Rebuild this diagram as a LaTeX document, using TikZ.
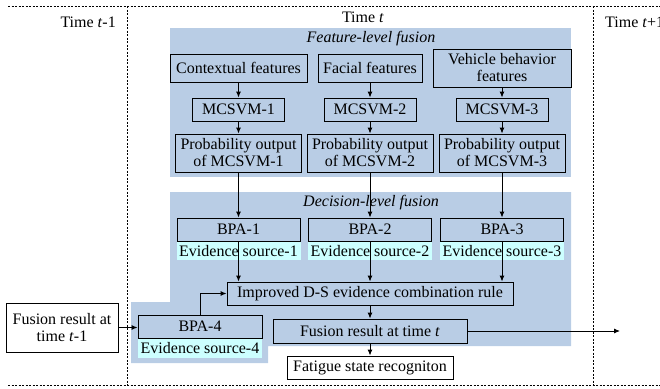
\documentclass[tikz,border=0pt]{standalone}
\usepackage{fontspec}
\setmainfont{Liberation Serif}
\usetikzlibrary{arrows.meta}
\definecolor{fuseblue}{HTML}{B9CDE5}
\definecolor{evcyan}{HTML}{CCFFFF}
\begin{document}
\begin{tikzpicture}[x=1pt,y=-1pt,
  every node/.style={font=\fontsize{16}{17}\selectfont},
  box/.style={draw,line width=0.9pt,inner sep=0pt,align=center},
  evlabel/.style={fill=evcyan,inner sep=0pt},
  arr/.style={line width=0.9pt,-{Latex[length=6pt,width=5pt]}},
  plain/.style={line width=0.9pt},
  sep/.style={line width=0.6pt,dash pattern=on 2pt off 1.5pt},
  region/.style={fill=fuseblue,draw=none},
  ttl/.style={inner sep=0pt,font=\fontsize{16}{17}\selectfont\itshape}]
\useasboundingbox (0,0) rectangle (660,388);
% separators
\draw[sep] (8,6) -- (660,6);
\draw[sep] (8,385) -- (660,385);
\draw[sep] (127,6) -- (127,385);
\draw[sep] (593,6) -- (593,385);
% time labels
\node[inner sep=0pt,anchor=east] (tm1) at (116,22) {Time \textit{t}-1};
\node[inner sep=0pt] (tt) at (363,17) {Time \textit{t}};
\node[inner sep=0pt,anchor=west] (tp1) at (605,22) {Time \textit{t}+1};
% regions
\fill[region] (170,28) rectangle (571,177);
\fill[region] (170,192) -- (571,192) -- (571,346) -- (268,346) -- (268,363) -- (131,363) -- (131,302) -- (170,302) -- cycle;
\node[ttl] (flf) at (371,39) {Feature-level fusion};
\node[ttl] (dlf) at (371,203) {Decision-level fusion};
% feature boxes
\node[box,minimum width=137pt,minimum height=28pt] (ctx) at (238.5,68) {Contextual features};
\node[box,minimum width=104pt,minimum height=28pt] (fac) at (370,68) {Facial features};
\node[box,minimum width=138pt,minimum height=38pt] (veh) at (502,68) {Vehicle behavior\\features};
\node[box,minimum width=92pt,minimum height=23pt] (m1) at (238.5,109.5) {MCSVM-1};
\node[box,minimum width=92pt,minimum height=23pt] (m2) at (370,109.5) {MCSVM-2};
\node[box,minimum width=92pt,minimum height=23pt] (m3) at (502,109.5) {MCSVM-3};
\node[box,minimum width=126pt,minimum height=38pt] (p1) at (238.5,153) {Probability output\\of MCSVM-1};
\node[box,minimum width=126pt,minimum height=38pt] (p2) at (370,153) {Probability output\\of MCSVM-2};
\node[box,minimum width=126pt,minimum height=38pt] (p3) at (502,153) {Probability output\\of MCSVM-3};
% BPA boxes
\node[box,minimum width=123pt,minimum height=23pt] (b1) at (238.5,229.5) {BPA-1};
\node[box,minimum width=123pt,minimum height=23pt] (b2) at (370,229.5) {BPA-2};
\node[box,minimum width=123pt,minimum height=23pt] (b3) at (502,229.5) {BPA-3};
\node[evlabel,minimum width=124pt,minimum height=18pt,anchor=north] (e1) at (b1.south) {Evidence source-1};
\node[evlabel,minimum width=124pt,minimum height=18pt,anchor=north] (e2) at (b2.south) {Evidence source-2};
\node[evlabel,minimum width=124pt,minimum height=18pt,anchor=north] (e3) at (b3.south) {Evidence source-3};
\node[box,minimum width=286pt,minimum height=23pt] (ds) at (370,293.5) {Improved D-S evidence combination rule};
\node[box,minimum width=194pt,minimum height=24pt] (ft) at (370,331) {Fusion result at time \textit{t}};
\node[box,fill=white,minimum width=166pt,minimum height=23pt] (fat) at (370,367.5) {Fatigue state recogniton};
\node[box,minimum width=124pt,minimum height=23pt] (b4) at (200,326.5) {BPA-4};
\node[evlabel,minimum width=124pt,minimum height=19pt,anchor=north] (e4) at (b4.south) {Evidence source-4};
\node[box,fill=white,minimum width=112pt,minimum height=49pt] (fr) at (62,327.5) {Fusion result at\\time \textit{t}-1};
\coordinate (out) at (620,331);
% connectors
\draw[arr] (ctx.south) -- (m1.north);
\draw[arr] (fac.south) -- (m2.north);
\draw[arr] (veh.south) -- (m3.north);
\draw[arr] (m1.south) -- (p1.north);
\draw[arr] (m2.south) -- (p2.north);
\draw[arr] (m3.south) -- (p3.north);
\draw[arr] (p1.south) -- (b1.north);
\draw[arr] (p2.south) -- (b2.north);
\draw[arr] (p3.south) -- (b3.north);
\draw[arr] (b1.south) -- (b1.south |- ds.north);
\draw[arr] (b2.south) -- (b2.south |- ds.north);
\draw[arr] (b3.south) -- (b3.south |- ds.north);
\draw[arr] (ds.south) -- (ft.north);
\draw[arr] (ft.south) -- (fat.north);
\draw[arr] (b4.north) |- (ds.west);
\draw[arr] (fr.east) -- (fr.east -| b4.west);
\draw[arr] (ft.east) -- (out);
\end{tikzpicture}
\end{document}
